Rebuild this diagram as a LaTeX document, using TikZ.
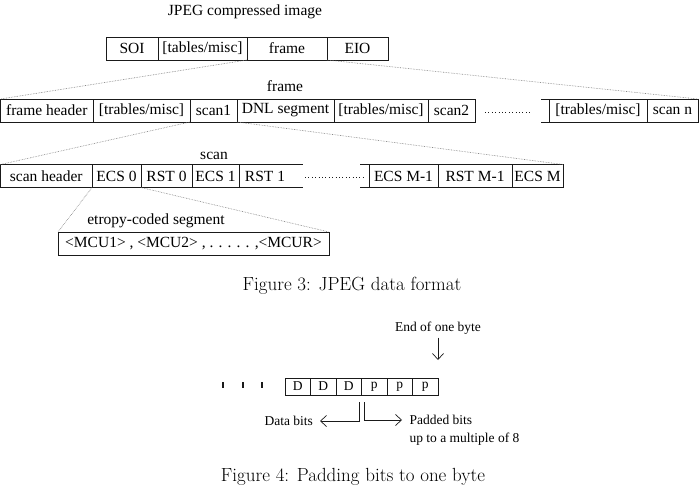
\documentclass[tikz,border=0pt]{standalone}
\usepackage{fontspec}
\usepackage{xcolor}
\usepackage{tikz}
\usetikzlibrary{arrows.meta, positioning}
\newfontfamily\timesfont{Liberation Serif}
\definecolor{jpgInk}{HTML}{1A1A1A}
\definecolor{jpgDot}{HTML}{7A7A7A}

\begin{document}
\begin{tikzpicture}[
  x=1pt, y=-1pt,
  node distance=0pt,
  cell/.style={draw=jpgInk, line width=0.8pt, inner sep=0pt, outer sep=0pt,
               minimum height=23pt, font=\timesfont\fontsize{15.5}{18}\selectfont},
  opencell/.style={cell, draw=none},
  bitcell/.style={cell, minimum width=25.5pt, minimum height=17pt,
               font=\timesfont\fontsize{13.5}{16}\selectfont},
  cellline/.style={draw=jpgInk, line width=0.8pt},
  lbl/.style={font=\timesfont\fontsize{15.5}{18}\selectfont},
  smalllbl/.style={font=\timesfont\fontsize{13.5}{16}\selectfont},
  caption/.style={font=\fontsize{19}{22}\selectfont},
  zoomline/.style={draw=jpgDot, densely dotted, line width=0.6pt},
  dotrow/.style={draw=jpgInk, line width=0.8pt, dash pattern=on 0.8pt off 2.6pt},
  barb/.style={-{Straight Barb[length=6pt, width=11pt]}, draw=jpgInk, line width=0.7pt},
  bitdot/.style={fill=jpgInk, inner sep=0pt, minimum width=2.8pt, minimum height=6pt},
]
\useasboundingbox (0,0) rectangle (699,503);

% ---- JPEG compressed image ----
\node[lbl] (jpegtitle) at (245,12) {JPEG compressed image};
\node[cell, minimum width=52pt, anchor=west] (soi) at (106,48.5) {SOI};
\node[cell, minimum width=89pt, right=of soi] (tablesa) {[tables/misc]};
\node[cell, minimum width=80pt, right=of tablesa] (frame) {frame};
\node[cell, minimum width=61pt, right=of frame] (eio) {EIO};

% ---- frame ----
\node[lbl] (framelbl) at (285,86) {frame};
\node[cell, minimum width=92.5pt, anchor=west] (framehdr) at (0.5,110.5) {frame header};
\node[cell, minimum width=97pt, right=of framehdr] (tmiscb) {[trables/misc]};
\node[cell, minimum width=47pt, right=of tmiscb] (scanone) {scan1};
\node[cell, minimum width=97pt, right=of scanone] (dnl) {DNL segment};
\node[cell, minimum width=94pt, right=of dnl] (tmiscc) {[trables/misc]};
\node[cell, minimum width=47pt, right=of tmiscc] (scantwo) {scan2};
\node[opencell, minimum width=74pt, right=of scantwo] (gapa) {};
\node[cell, minimum width=98pt, right=of gapa] (tmiscn) {[trables/misc]};
\node[cell, minimum width=51pt, right=of tmiscn] (scann) {scan n};
\draw[dotrow] ([shift={(10,1.5)}]gapa.west) -- ([shift={(-19,1.5)}]gapa.east);
\draw[cellline] (tmiscn.north west) -- ++(-8,0) (tmiscn.south west) -- ++(-8,0);

% ---- scan ----
\node[lbl] (scanlbl) at (214,156) {scan};
\node[cell, minimum width=91.5pt, anchor=west] (scanhdr) at (0.5,176) {scan header};
\node[cell, minimum width=49pt, right=of scanhdr] (ecszero) {ECS 0};
\node[cell, minimum width=51pt, right=of ecszero] (rstzero) {RST 0};
\node[cell, minimum width=47pt, right=of rstzero] (ecsone) {ECS 1};
\node[opencell, minimum width=52pt, right=of ecsone] (rstone) {RST 1};
\draw[cellline] (rstone.north west) -- ++(64,0) (rstone.south west) -- ++(64,0);
\node[cell, minimum width=69pt, anchor=west] (ecsmone) at (369,176) {ECS M-1};
\node[cell, minimum width=74pt, right=of ecsmone] (rstmone) {RST M-1};
\node[cell, minimum width=51pt, right=of rstmone] (ecsm) {ECS M};
\draw[cellline] (ecsmone.north west) -- ++(-9,0) (ecsmone.south west) -- ++(-9,0);
\draw[dotrow] ([shift={(14,1.5)}]rstone.east) -- ([shift={(-6,1.5)}]ecsmone.west);

% ---- entropy-coded segment ----
\node[lbl] (ecslbl) at (156,221) {etropy-coded segment};
\node[cell, minimum width=271pt, anchor=west] (mcu) at (58,243.5) {<MCU1> , <MCU2> , . . . . . ,<MCUR>};

% zoom lines
\draw[zoomline] (frame.south west) -- (framehdr.north west);
\draw[zoomline] (eio.south west) -- (scann.north east);
\draw[zoomline] (scanone.south west) -- (scanhdr.north west);
\draw[zoomline] (scanone.south east) -- (ecsm.north east);
\draw[zoomline] (ecszero.south west) -- (mcu.north west);
\draw[zoomline] (ecszero.south east) -- (mcu.north east);

\node[caption] (capa) at (352,286) {Figure 3: JPEG data format};

% ---- padding bits ----
\node[smalllbl] (endbyte) at (438,328) {End of one byte};
\node[bitcell, anchor=west] (bda) at (285,386.5) {D};
\node[bitcell, right=of bda] (bdb) {D};
\node[bitcell, right=of bdb] (bdc) {D};
\node[bitcell, right=of bdc] (bpa) {p};
\node[bitcell, right=of bpa] (bpb) {p};
\node[bitcell, right=of bpb] (bpc) {p};
\foreach \i/\x in {1/223,2/243,3/262}
  \node[bitdot] (dot\i) at (\x,385) {};
\draw[barb, shorten >=18pt] (endbyte) -- (bpc.north east);

\coordinate (splitl) at (359,402);
\coordinate (splitr) at (364,402);
\node[smalllbl, anchor=east] (databits) at (316.5,421) {Data bits};
\node[smalllbl, anchor=west] (padded) at (406,420) {Padded bits};
\node[smalllbl, anchor=west] (multiple) at (406,439) {up to a multiple of 8};
\draw[barb, shorten >=3.5pt] (splitl) |- (databits.east);
\draw[barb, shorten >=4pt] (splitr) |- (padded.west);

\node[caption] (capb) at (353,477) {Figure 4: Padding bits to one byte};
\end{tikzpicture}
\end{document}
